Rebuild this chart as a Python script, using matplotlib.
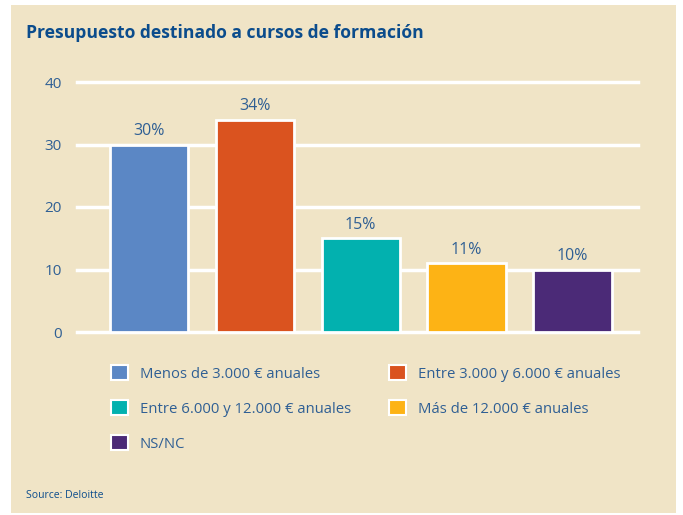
"""Presupuesto destinado a cursos de formación - bar chart."""

import matplotlib

matplotlib.use("Agg")
import matplotlib.pyplot as plt
from matplotlib.patches import Patch, Rectangle

categories = [
    "Menos de 3.000 € anuales",
    "Entre 3.000 y 6.000 € anuales",
    "Entre 6.000 y 12.000 € anuales",
    "Más de 12.000 € anuales",
    "NS/NC",
]
values = [30, 34, 15, 11, 10]
value_labels = ["30%", "34%", "15%", "11%", "10%"]
yticks = [0, 10, 20, 30, 40]
colors = ["#5B87C5", "#DA531F", "#02B1AF", "#FDB315", "#4B2A77"]

BG = "#F0E4C6"
TEXT = "#2F5F94"
TITLE = "#0B4C8C"

plt.rcParams["font.family"] = ["Open Sans", "DejaVu Sans"]

fig = plt.figure(figsize=(6.83, 5.15), dpi=100)
fig.patch.set_facecolor("white")
# cream panel behind everything
fig.patches.append(
    Rectangle((11 / 683, 1 - 513 / 515), 665 / 683, 508 / 515,
              transform=fig.transFigure, facecolor=BG, edgecolor="none", zorder=-10)
)

ax = fig.add_axes([77 / 683, 1 - 332 / 515, 561 / 683, 250 / 515])
ax.set_facecolor("none")
x = range(len(values))
ax.bar(x, values, width=0.74, color=colors, edgecolor="white", linewidth=2, zorder=3)
for xi, v, lab in zip(x, values, value_labels):
    ax.text(xi, v + 0.9, lab, ha="center", va="bottom", fontsize=11.5, color=TEXT)

ax.set_xlim(-0.68, 4.62)
ax.set_ylim(0, 40)
ax.set_yticks(yticks)
ax.set_xticks([])
for t in yticks:
    ax.axhline(t, color="white", lw=2.5, zorder=1, clip_on=False)
ax.tick_params(axis="y", length=0, pad=11, labelsize=11, labelcolor=TEXT)
for s in ax.spines.values():
    s.set_visible(False)

fig.text(26 / 683, 1 - 33 / 515, "Presupuesto destinado a cursos de formación",
         fontsize=12.6, fontweight="bold", color=TITLE, va="center", ha="left")

# legend fills column by column, so reorder to read row by row
handles = [Patch(facecolor=c, edgecolor="white", linewidth=1.5) for c in colors]
order = [0, 2, 4, 1, 3]
leg = fig.legend(
    [handles[i] for i in order], [categories[i] for i in order],
    ncol=2, loc="upper left", bbox_to_anchor=(98 / 683, 1 - 352 / 515),
    frameon=False, fontsize=10.7, labelcolor=TEXT, handlelength=1.15, handleheight=1.15,
    handletextpad=0.75, columnspacing=2.6, labelspacing=1.25,
)

fig.text(26 / 683, 1 - 495 / 515, "Source: Deloitte", fontsize=7.5, color=TITLE,
         va="center", ha="left")

fig.savefig("out.png", dpi=100)
